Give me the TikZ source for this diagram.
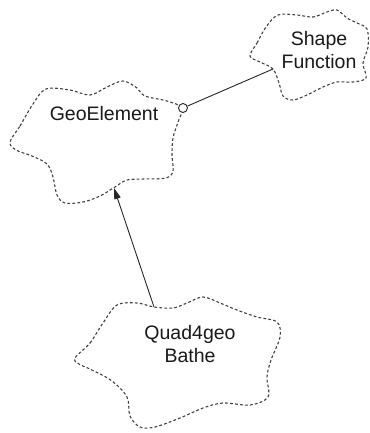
\documentclass[tikz,border=0pt]{standalone}
\usepackage{fontspec}
\setmainfont{Liberation Sans}
\usetikzlibrary{arrows.meta}
\begin{document}
\begin{tikzpicture}[x=1pt,y=-1pt,
  cloud/.style={draw=black!75,line width=1.1pt,dash pattern=on 2.8pt off 2.2pt,
    smooth cycle,tension=0.55},
  label/.style={font=\fontsize{19.5}{23}\selectfont,align=center,text=black!90,inner sep=0pt},
  link/.style={draw=black!85,line width=0.9pt}]
\useasboundingbox (0,0) rectangle (369,433);

% class clouds
\draw[cloud] plot coordinates {(10,142) (20,126) (33,104) (46,89) (70,90) (90,95)
  (107,87) (123,81) (137,88) (145,96) (167,101) (182,108) (178,122) (173,138)
  (172,155) (173,171) (166,178) (145,179) (127,180) (115,187) (100,196) (83,202)
  (65,203) (57,195) (53,177) (47,164) (32,156) (16,150)};
\draw[cloud] plot coordinates {(250,56) (257,43) (266,27) (278,15) (297,15) (313,17)
  (327,12) (337,10) (347,18) (357,23) (367,29) (368,47) (363,63) (366,78) (353,82)
  (337,82) (323,87) (307,95) (293,100) (283,96) (279,83) (273,69) (260,62)};
\draw[cloud] plot coordinates {(75,358) (90,343) (103,323) (117,305) (137,303)
  (154,307) (173,308) (187,303) (203,297) (220,303) (237,310) (257,317) (277,322)
  (280,337) (271,360) (267,377) (268,397) (250,405) (223,403) (203,408) (180,418)
  (155,427) (140,427) (130,416) (127,397) (112,381) (92,370) (79,364)};

% class names
\node[label] (geo) at (104,114) {GeoElement};
\node[label] (shp) at (319,50) {Shape\\Function};
\node[label] (quad) at (190,344) {Quad4geo\\Bathe};

% attachment points on the cloud outlines
\coordinate (shpL) at (273,69);
\coordinate (geoB) at (114,188);
\coordinate (quadT) at (154,307);
\node[circle,draw=black!85,line width=0.9pt,fill=white,minimum size=9pt,inner sep=0pt]
  (has) at (183,108) {};

% relations
\draw[link] (has) -- (shpL);
\draw[link,-{Triangle[length=11pt,width=6.5pt]}] (quadT) -- (geoB);
\end{tikzpicture}
\end{document}
